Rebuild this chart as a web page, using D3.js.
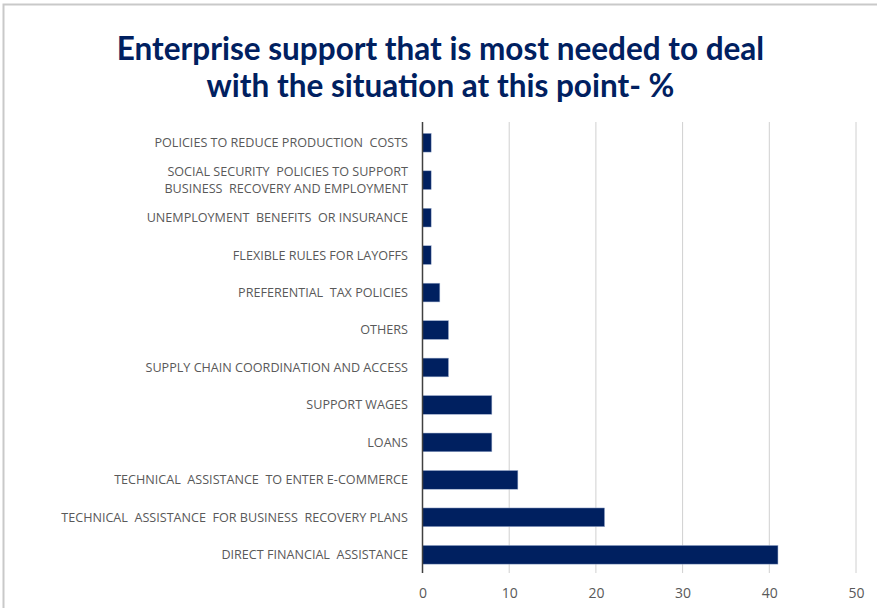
<!DOCTYPE html>
<html>
<head>
<meta charset="utf-8">
<script src="https://cdn.jsdelivr.net/npm/d3@7"></script>
<style>
	body { margin: 0; background: #fff; }
	svg { display: block; }
</style>
</head>
<body>
<div class="chart"></div>
<script>
// categories top to bottom
const categories = [
	["POLICIES TO REDUCE PRODUCTION  COSTS"],
	["SOCIAL SECURITY  POLICIES TO SUPPORT", "BUSINESS  RECOVERY AND EMPLOYMENT"],
	["UNEMPLOYMENT  BENEFITS  OR INSURANCE"],
	["FLEXIBLE RULES FOR LAYOFFS"],
	["PREFERENTIAL  TAX POLICIES"],
	["OTHERS"],
	["SUPPLY CHAIN COORDINATION AND ACCESS"],
	["SUPPORT WAGES"],
	["LOANS"],
	["TECHNICAL  ASSISTANCE  TO ENTER E-COMMERCE"],
	["TECHNICAL  ASSISTANCE  FOR BUSINESS  RECOVERY PLANS"],
	["DIRECT FINANCIAL  ASSISTANCE"]
];
const values = [1, 1, 1, 1, 2, 3, 3, 8, 8, 11, 21, 41];
const xTicks = [0, 10, 20, 30, 40, 50];
const titleLines = ["Enterprise support that is most needed to deal", "with the situation at this point- %"];

(function () {
	const width = 877,
		height = 608;
	const left = 422.5, right = 856, top = 122, bottom = 573;
	const navy = "#002060";

	const svg = d3.select(".chart").append("svg")
		.attr("width", width)
		.attr("height", height);

	// outer frame
	svg.append("rect")
		.attr("x", 3.5).attr("y", 4.5)
		.attr("width", 1000).attr("height", 1000)
		.attr("fill", "none")
		.attr("stroke", "#c9c9c9")
		.attr("stroke-width", 2);

	svg.selectAll(".title")
		.data(titleLines)
		.enter().append("text")
		.attr("class", "title")
		.attr("x", 440.5)
		.attr("y", function (d, i) { return 60 + i * 37; })
		.attr("text-anchor", "middle")
		.attr("font-family", "Lato, 'Open Sans', sans-serif")
		.attr("font-weight", "bold")
		.attr("font-size", 31.5)
		.attr("fill", navy)
		.text(function (d) { return d; });

	const x = d3.scaleLinear().domain([0, 50]).range([left, right]);
	const y = d3.scaleBand()
		.domain(d3.range(categories.length))
		.range([124, 573.5])
		.paddingInner(0.5)
		.paddingOuter(0.25);

	// grid
	svg.append("g")
		.selectAll("line")
		.data(xTicks.slice(1))
		.enter().append("line")
		.attr("x1", function (d) { return x(d); })
		.attr("x2", function (d) { return x(d); })
		.attr("y1", top)
		.attr("y2", bottom)
		.attr("stroke", "#d0d0d0")
		.attr("stroke-width", 1);

	svg.append("g")
		.selectAll("rect")
		.data(values)
		.enter().append("rect")
		.attr("x", x(0))
		.attr("y", function (d, i) { return y(i); })
		.attr("width", function (d) { return x(d) - x(0); })
		.attr("height", y.bandwidth())
		.attr("fill", navy)
		.attr("stroke", "#9fb0d0")
		.attr("stroke-width", 0.5);

	// x axis
	const xAxis = d3.axisBottom(x).tickValues(xTicks).tickSize(0).tickPadding(15);
	const gx = svg.append("g")
		.attr("transform", "translate(0," + bottom + ")")
		.call(xAxis);
	gx.select(".domain").remove();
	gx.selectAll("text")
		.attr("font-family", "'Open Sans', sans-serif")
		.attr("font-size", 14)
		.attr("fill", "#595959");

	// y axis
	svg.append("line")
		.attr("x1", left).attr("x2", left)
		.attr("y1", top).attr("y2", bottom)
		.attr("stroke", "#404040")
		.attr("stroke-width", 1.5);

	const labels = svg.append("g")
		.selectAll("text")
		.data(categories)
		.enter().append("text")
		.attr("x", 408)
		.attr("y", function (d, i) { return y(i) + y.bandwidth() / 2; })
		.attr("text-anchor", "end")
		.attr("font-family", "'Open Sans', sans-serif")
		.attr("font-size", 12.6)
		.attr("fill", "#595959")
		.attr("xml:space", "preserve")
		.style("white-space", "pre");

	labels.each(function (d) {
		const t = d3.select(this);
		d.forEach(function (line, j) {
			t.append("tspan")
				.attr("x", 408)
				.attr("dy", j === 0 ? (0.35 - (d.length - 1) * 0.67) + "em" : "1.34em")
				.text(line);
		});
	});
}());
</script>
</body>
</html>
